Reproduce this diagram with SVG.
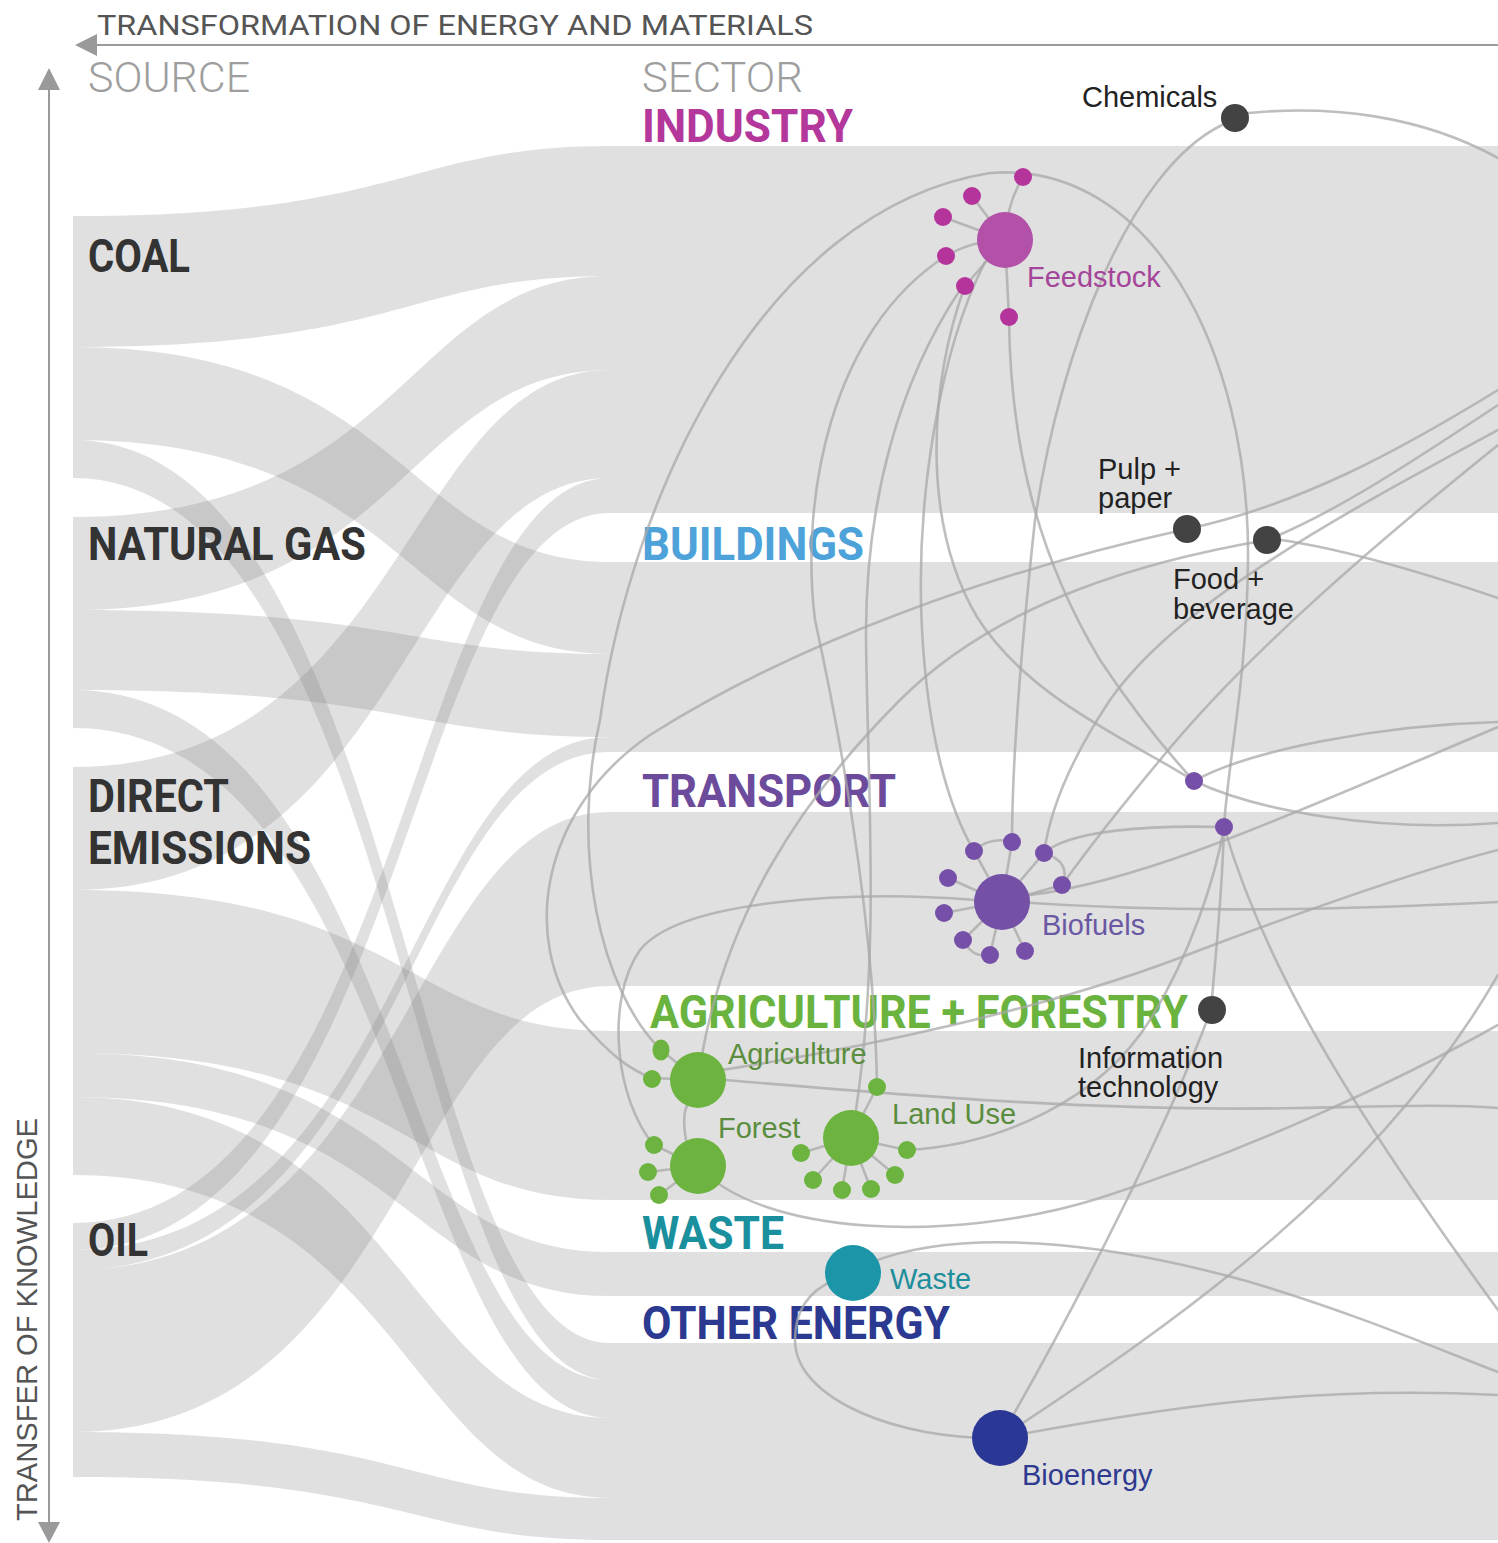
<svg xmlns="http://www.w3.org/2000/svg" width="1498" height="1543" viewBox="0 0 1498 1543">
<style>
.flow{fill:#808080;fill-opacity:0.244}
.band{fill:#e0e0e0}
.edge{fill:none;stroke:#a8a8a8;stroke-opacity:0.75;stroke-width:2.6;stroke-linecap:round}
.axis{stroke:#9a9a9a;stroke-width:2;fill:none}
.axh{fill:#9a9a9a}
.src{font-family:Roboto,"Liberation Sans",sans-serif;font-weight:700;font-size:46px;fill:#333}
.sec{font-family:Roboto,"Liberation Sans",sans-serif;font-weight:700;font-size:46px}
.head{font-family:Roboto,"Liberation Sans",sans-serif;font-weight:300;font-size:42px;fill:#9e9e9e}
.lbl{font-family:"Liberation Sans",Arial,sans-serif;font-size:29px;fill:#222}
.dark{fill:#434343}
.mag{fill:#b4349b}
.pur{fill:#7650a8}
.grn{fill:#6cb43f}
</style>

<g id="axes">
<line class="axis" x1="95" y1="45" x2="1498" y2="45"/>
<polygon class="axh" points="75,45 97,34 97,56"/>
<line class="axis" x1="49" y1="88" x2="49" y2="1524"/>
<polygon class="axh" points="49,68 38,90 60,90"/>
<polygon class="axh" points="49,1543 38,1522 60,1522"/>
<text x="97" y="35" font-family="Roboto,'Liberation Sans',sans-serif" font-weight="400" font-size="28" fill="#555" textLength="716" lengthAdjust="spacingAndGlyphs">TRANSFORMATION OF ENERGY AND MATERIALS</text>
<text transform="translate(37,1521) rotate(-90)" font-family="'Liberation Sans',Arial,sans-serif" font-size="30" fill="#555" textLength="403" lengthAdjust="spacingAndGlyphs">TRANSFER OF KNOWLEDGE</text>
<text class="head" x="88" y="92" textLength="162" lengthAdjust="spacingAndGlyphs">SOURCE</text>
<text class="head" x="642" y="92" textLength="161" lengthAdjust="spacingAndGlyphs">SECTOR</text>
</g>

<g id="flows">
<path class="flow" d="M73,216 C406,216 406,146 610,146 L610,276 C406,276 406,347 73,347 Z"/>
<path class="flow" d="M73,347 C406,347 406,562 610,562 L610,654 C406,654 406,440 73,440 Z"/>
<path class="flow" d="M73,440 C406,440 406,1343 610,1343 L610,1380 C406,1380 406,478 73,478 Z"/>
<path class="flow" d="M73,517 C406,517 406,276 610,276 L610,370 C406,370 406,610 73,610 Z"/>
<path class="flow" d="M73,610 C406,610 406,654 610,654 L610,737 C406,737 406,690 73,690 Z"/>
<path class="flow" d="M73,690 C406,690 406,1380 610,1380 L610,1418 C406,1418 406,728 73,728 Z"/>
<path class="flow" d="M73,767 C406,767 406,370 610,370 L610,478 C406,478 406,890 73,890 Z"/>
<path class="flow" d="M73,890 C406,890 406,1031 610,1031 L610,1200 C406,1200 406,1053 73,1053 Z"/>
<path class="flow" d="M73,1053 C406,1053 406,1252 610,1252 L610,1296 C406,1296 406,1097 73,1097 Z"/>
<path class="flow" d="M73,1097 C406,1097 406,1418 610,1418 L610,1498 C406,1498 406,1175 73,1175 Z"/>
<path class="flow" d="M73,1223 C406,1223 406,478 610,478 L610,513 C406,513 406,1250 73,1250 Z"/>
<path class="flow" d="M73,1250 C406,1250 406,737 610,737 L610,752 C406,752 406,1270 73,1270 Z"/>
<path class="flow" d="M73,1270 C406,1270 406,812 610,812 L610,986 C406,986 406,1432 73,1432 Z"/>
<path class="flow" d="M73,1432 C406,1432 406,1498 610,1498 L610,1540 C406,1540 406,1477 73,1477 Z"/>
</g>

<g id="bands">
<rect class="band" x="610" y="146" width="888" height="367"/>
<rect class="band" x="610" y="562" width="888" height="190"/>
<rect class="band" x="610" y="812" width="888" height="174"/>
<rect class="band" x="610" y="1031" width="888" height="169"/>
<rect class="band" x="610" y="1252" width="888" height="44"/>
<rect class="band" x="610" y="1343" width="888" height="197"/>
</g>

<g id="sources">
<g id="source-coal"><text class="src" x="88" y="272" textLength="102" lengthAdjust="spacingAndGlyphs">COAL</text></g>
<g id="source-natural-gas"><text class="src" x="88" y="560" textLength="278" lengthAdjust="spacingAndGlyphs">NATURAL GAS</text></g>
<g id="source-direct-emissions"><text class="src" x="88" y="812" textLength="141" lengthAdjust="spacingAndGlyphs">DIRECT</text><text class="src" x="88" y="864" textLength="223" lengthAdjust="spacingAndGlyphs">EMISSIONS</text></g>
<g id="source-oil"><text class="src" x="88" y="1256" textLength="60" lengthAdjust="spacingAndGlyphs">OIL</text></g>
</g>

<g id="sectors">
<g id="sector-industry"><text class="sec" x="642" y="142" fill="#b4379b" textLength="211" lengthAdjust="spacingAndGlyphs">INDUSTRY</text></g>
<g id="sector-buildings"><text class="sec" x="642" y="560" fill="#4da2d9" textLength="222" lengthAdjust="spacingAndGlyphs">BUILDINGS</text></g>
<g id="sector-transport"><text class="sec" x="642" y="807" fill="#6c4b9c" textLength="254" lengthAdjust="spacingAndGlyphs">TRANSPORT</text></g>
<g id="sector-agriculture"><text class="sec" x="650" y="1028" fill="#6ab33e" font-size="44" textLength="538" lengthAdjust="spacingAndGlyphs">AGRICULTURE + FORESTRY</text></g>
<g id="sector-waste"><text class="sec" x="642" y="1249" fill="#1a8f9e" textLength="142" lengthAdjust="spacingAndGlyphs">WASTE</text></g>
<g id="sector-other-energy"><text class="sec" x="642" y="1339" fill="#2b3990" textLength="308" lengthAdjust="spacingAndGlyphs">OTHER ENERGY</text></g>
</g>

<g id="connectors">
<path class="edge" d="M661,1050 C600,990 570,850 600,720 C630,500 760,210 990,173 C1150,160 1250,350 1248,560 C1247,680 1228,760 1224,827"/>
<path class="edge" d="M1224,827 C1222,900 1215,960 1211,1010"/>
<path class="edge" d="M1000,1438 C1080,1300 1170,1120 1211,1010"/>
<path class="edge" d="M1000,1438 C1180,1320 1380,1180 1498,975"/>
<path class="edge" d="M1000,1438 C1150,1410 1300,1385 1498,1395"/>
<path class="edge" d="M1000,1438 C900,1440 795,1400 795,1340 C795,1305 815,1288 835,1280"/>
<path class="edge" d="M872,1262 C960,1228 1100,1240 1250,1282 C1360,1315 1440,1350 1498,1372"/>
<path class="edge" d="M698,1166 C760,1235 950,1245 1100,1198 C1250,1150 1400,1080 1498,1025"/>
<path class="edge" d="M726,1080 C900,1095 1100,1112 1300,1108 C1400,1106 1450,1104 1498,1108"/>
<path class="edge" d="M722,1070 C850,1050 1050,1010 1200,950 C1320,905 1420,870 1498,850"/>
<path class="edge" d="M907,1150 C1000,1145 1100,1100 1150,1020 C1190,955 1215,880 1224,827"/>
<path class="edge" d="M877,1087 C875,950 850,780 815,620 C800,500 830,330 946,256"/>
<path class="edge" d="M960,290 C900,380 865,500 866,640 C868,800 880,950 856,1110"/>
<path class="edge" d="M965,286 C930,380 920,520 977,617 C1030,700 1130,740 1194,781"/>
<path class="edge" d="M1009,317 C1010,450 1040,560 1100,660 C1140,720 1170,755 1194,781"/>
<path class="edge" d="M985,262 C940,350 915,500 922,630 C928,740 950,810 974,851"/>
<path class="edge" d="M1222,125 C1130,170 1060,350 1035,520 C1022,640 1012,760 1012,842"/>
<path class="edge" d="M1249,113 C1330,105 1420,115 1498,158"/>
<path class="edge" d="M1498,390 C1400,450 1300,505 1187,529"/>
<path class="edge" d="M1187,529 C1000,570 800,640 650,735 C540,810 520,940 580,1020 C610,1055 630,1070 652,1078"/>
<path class="edge" d="M1498,405 C1400,470 1330,515 1267,540"/>
<path class="edge" d="M1281,540 C1350,550 1430,575 1498,598"/>
<path class="edge" d="M1267,540 C1150,560 1000,600 900,700 C800,800 720,920 698,1080"/>
<path class="edge" d="M1498,430 C1350,510 1180,600 1110,700 C1070,760 1050,810 1044,853"/>
<path class="edge" d="M1498,445 C1380,540 1250,650 1160,760 C1110,820 1080,860 1062,885"/>
<path class="edge" d="M1044,853 C1070,830 1150,825 1224,827"/>
<path class="edge" d="M1002,901 C1150,912 1300,912 1498,902"/>
<path class="edge" d="M654,1145 C615,1100 605,1000 640,950 C680,900 850,890 975,900"/>
<path class="edge" d="M1030,895 C1150,880 1300,810 1498,727"/>
<path class="edge" d="M1194,781 C1250,750 1380,725 1498,722"/>
<path class="edge" d="M1194,781 C1260,812 1380,832 1498,823"/>
<path class="edge" d="M1224,827 C1260,950 1330,1080 1498,1310"/>
<path class="edge" d="M974,851 Q990,836 1012,842"/>
<path class="edge" d="M1044,853 Q1072,862 1062,885"/>
<path class="edge" d="M963,940 Q972,958 990,955"/>
<path class="edge" d="M686,1140 C683,1122 684,1110 688,1104"/>
<path class="edge" d="M1023,177 C1012,195 1006,215 1005,240 M972,196 L1005,240 M943,217 L1005,240 M946,256 C965,245 985,240 1005,240 M965,286 L1005,240 M1009,317 L1005,240"/>
<path class="edge" d="M1012,842 L1002,902 M1044,853 L1002,902 M974,851 L1002,902 M948,878 L1002,902 M1062,885 L1002,902 M944,913 L1002,902 M963,940 L1002,902 M990,955 L1002,902 M1025,951 L1002,902"/>
<path class="edge" d="M661,1050 L698,1080 M652,1078 L698,1080 M654,1145 L698,1166 M648,1172 L698,1166 M659,1195 L698,1166"/>
<path class="edge" d="M877,1087 L851,1138 M907,1150 L851,1138 M895,1175 L851,1138 M871,1189 L851,1138 M842,1190 L851,1138 M813,1180 L851,1138 M801,1153 L851,1138"/>
</g>

<g id="node-chemicals"><circle class="dark" cx="1235" cy="118" r="14"/><text class="lbl" x="1082" y="107">Chemicals</text></g>
<g id="node-feedstock">
<circle class="mag" cx="1023" cy="177" r="9"/><circle class="mag" cx="972" cy="196" r="9"/><circle class="mag" cx="943" cy="217" r="9"/><circle class="mag" cx="946" cy="256" r="9"/><circle class="mag" cx="965" cy="286" r="9"/><circle class="mag" cx="1009" cy="317" r="9"/>
<circle cx="1005" cy="240" r="28" fill="#b350a7"/>
<text class="lbl" x="1027" y="287" style="fill:#a4459a">Feedstock</text>
</g>
<g id="node-pulp-paper"><circle class="dark" cx="1187" cy="529" r="14"/><text class="lbl" x="1098" y="479">Pulp +</text><text class="lbl" x="1098" y="508">paper</text></g>
<g id="node-food-beverage"><circle class="dark" cx="1267" cy="540" r="14"/><text class="lbl" x="1173" y="589">Food +</text><text class="lbl" x="1173" y="619">beverage</text></g>
<g id="node-transport-a"><circle class="pur" cx="1194" cy="781" r="9"/></g>
<g id="node-transport-b"><circle class="pur" cx="1224" cy="827" r="9"/></g>
<g id="node-biofuels">
<circle class="pur" cx="1012" cy="842" r="9"/><circle class="pur" cx="1044" cy="853" r="9"/><circle class="pur" cx="974" cy="851" r="9"/><circle class="pur" cx="948" cy="878" r="9"/><circle class="pur" cx="1062" cy="885" r="9"/><circle class="pur" cx="944" cy="913" r="9"/><circle class="pur" cx="963" cy="940" r="9"/><circle class="pur" cx="990" cy="955" r="9"/><circle class="pur" cx="1025" cy="951" r="9"/>
<circle cx="1002" cy="902" r="28" fill="#7450a6"/>
<text class="lbl" x="1042" y="935" style="fill:#6a58a3">Biofuels</text>
</g>
<g id="node-information-technology"><circle class="dark" cx="1212" cy="1010" r="14"/><text class="lbl" x="1078" y="1068">Information</text><text class="lbl" x="1078" y="1097">technology</text></g>
<g id="node-agriculture">
<ellipse class="grn" cx="661" cy="1050" rx="8.5" ry="10.5"/><circle class="grn" cx="652" cy="1079" r="9"/>
<circle class="grn" cx="698" cy="1080" r="28"/>
<text class="lbl" x="728" y="1064" style="fill:#5b8d3e">Agriculture</text>
</g>
<g id="node-forest">
<circle class="grn" cx="654" cy="1145" r="9"/><circle class="grn" cx="648" cy="1172" r="9"/><circle class="grn" cx="659" cy="1195" r="9"/>
<circle class="grn" cx="698" cy="1166" r="28"/>
<text class="lbl" x="718" y="1138" style="fill:#5b8d3e">Forest</text>
</g>
<g id="node-land-use">
<circle class="grn" cx="877" cy="1087" r="9"/><circle class="grn" cx="907" cy="1150" r="9"/><circle class="grn" cx="895" cy="1175" r="9"/><circle class="grn" cx="871" cy="1189" r="9"/><circle class="grn" cx="842" cy="1190" r="9"/><circle class="grn" cx="813" cy="1180" r="9"/><circle class="grn" cx="801" cy="1153" r="9"/>
<circle class="grn" cx="851" cy="1138" r="28"/>
<text class="lbl" x="892" y="1124" style="fill:#5b8d3e">Land Use</text>
</g>
<g id="node-waste"><circle cx="853" cy="1273" r="28" fill="#1b95a7"/><text class="lbl" x="890" y="1289" style="fill:#1f8e9c">Waste</text></g>
<g id="node-bioenergy"><circle cx="1000" cy="1438" r="28" fill="#2a3795"/><text class="lbl" x="1022" y="1485" style="fill:#2e3a8f">Bioenergy</text></g>
</svg>
